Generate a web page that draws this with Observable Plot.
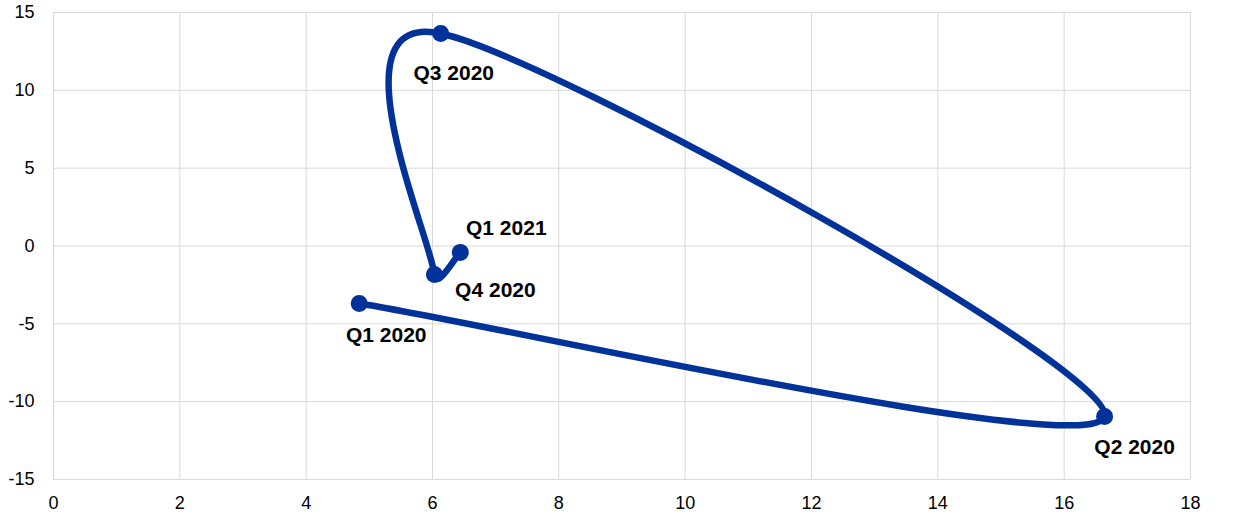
<!DOCTYPE html>
<html><head><meta charset="utf-8">
<script src="https://cdn.jsdelivr.net/npm/d3@7"></script>
<script src="https://cdn.jsdelivr.net/npm/@observablehq/plot@0.6"></script>
<style>body{margin:0;background:#fff}</style>
</head><body><div id="chart"></div>
<script>
const quarters = ["Q1 2020", "Q2 2020", "Q3 2020", "Q4 2020", "Q1 2021"];
const xValues = [4.84, 16.64, 6.13, 6.03, 6.44];
const yValues = [-3.69, -10.95, 13.65, -1.83, -0.41];
const xTicks = [0, 2, 4, 6, 8, 10, 12, 14, 16, 18];
const yTicks = [-15, -10, -5, 0, 5, 10, 15];

const data = quarters.map((q, i) => ({q, x: xValues[i], y: yValues[i]}));
const blue = "#003299";
const pick = (q) => data.filter(d => d.q === q);
const labelStyle = {x: "x", y: "y", text: "q", fontSize: 21, fontWeight: "bold", fill: "#000"};

// Spreadsheet-style smoothed line: cubic Bézier segments whose control
// handles follow the neighbouring points (1/6 of the chord), limited to half
// of the segment length so short segments do not overshoot.
function SmoothCurve(context) { this._context = context; }
SmoothCurve.prototype = {
  areaStart() { this._line = 0; },
  areaEnd() { this._line = NaN; },
  lineStart() { this._pts = []; },
  point(x, y) { this._pts.push([+x, +y]); },
  lineEnd() {
    const p = this._pts, n = p.length, c = this._context;
    if (!n) return;
    c.moveTo(p[0][0], p[0][1]);
    const clamp = (v, max) => {
      const l = Math.hypot(v[0], v[1]);
      return l > max && l > 0 ? [v[0] * max / l, v[1] * max / l] : v;
    };
    for (let i = 0; i < n - 1; i++) {
      const p0 = p[i], p1 = p[i + 1];
      const prev = p[i - 1] || p0, next = p[i + 2] || p1;
      const seg = Math.hypot(p1[0] - p0[0], p1[1] - p0[1]);
      const t1 = clamp([(p1[0] - prev[0]) / 6, (p1[1] - prev[1]) / 6], seg * 0.5);
      const t2 = clamp([(next[0] - p0[0]) / 6, (next[1] - p0[1]) / 6], seg * 0.5);
      c.bezierCurveTo(p0[0] + t1[0], p0[1] + t1[1], p1[0] - t2[0], p1[1] - t2[1], p1[0], p1[1]);
    }
  }
};
const smoothCurve = (context) => new SmoothCurve(context);

const chart = Plot.plot({
  width: 1240,
  height: 521,
  marginLeft: 53,
  marginRight: 50,
  marginTop: 12,
  marginBottom: 42,
  style: {fontFamily: "'Liberation Sans', Arial, sans-serif", fontSize: "18px", color: "#000", background: "#fff"},
  x: {domain: [0, 18]},
  y: {domain: [-15, 15]},
  marks: [
    Plot.gridX(xTicks, {stroke: "#d9d9d9", strokeOpacity: 1}),
    Plot.gridY(yTicks, {stroke: "#d9d9d9", strokeOpacity: 1}),
    Plot.axisX(xTicks, {tickSize: 0, tickPadding: 17, fontSize: 18, label: null, tickFormat: d => String(d)}),
    Plot.axisY(yTicks, {tickSize: 0, tickPadding: 19, fontSize: 18, label: null, tickFormat: d => String(d)}),
    Plot.line(data, {x: "x", y: "y", curve: smoothCurve, stroke: blue, strokeWidth: 6.5, strokeLinecap: "round", strokeLinejoin: "round"}),
    Plot.dot(data, {x: "x", y: "y", r: 8.5, fill: blue, stroke: "none"}),
    Plot.text(pick("Q1 2020"), {...labelStyle, dx: 27, dy: 32}),
    Plot.text(pick("Q2 2020"), {...labelStyle, dx: 30, dy: 31}),
    Plot.text(pick("Q3 2020"), {...labelStyle, dx: 13, dy: 40}),
    Plot.text(pick("Q4 2020"), {...labelStyle, dx: 61, dy: 16}),
    Plot.text(pick("Q1 2021"), {...labelStyle, dx: 46, dy: -24})
  ]
});
document.getElementById("chart").append(chart);
</script>
</body></html>
